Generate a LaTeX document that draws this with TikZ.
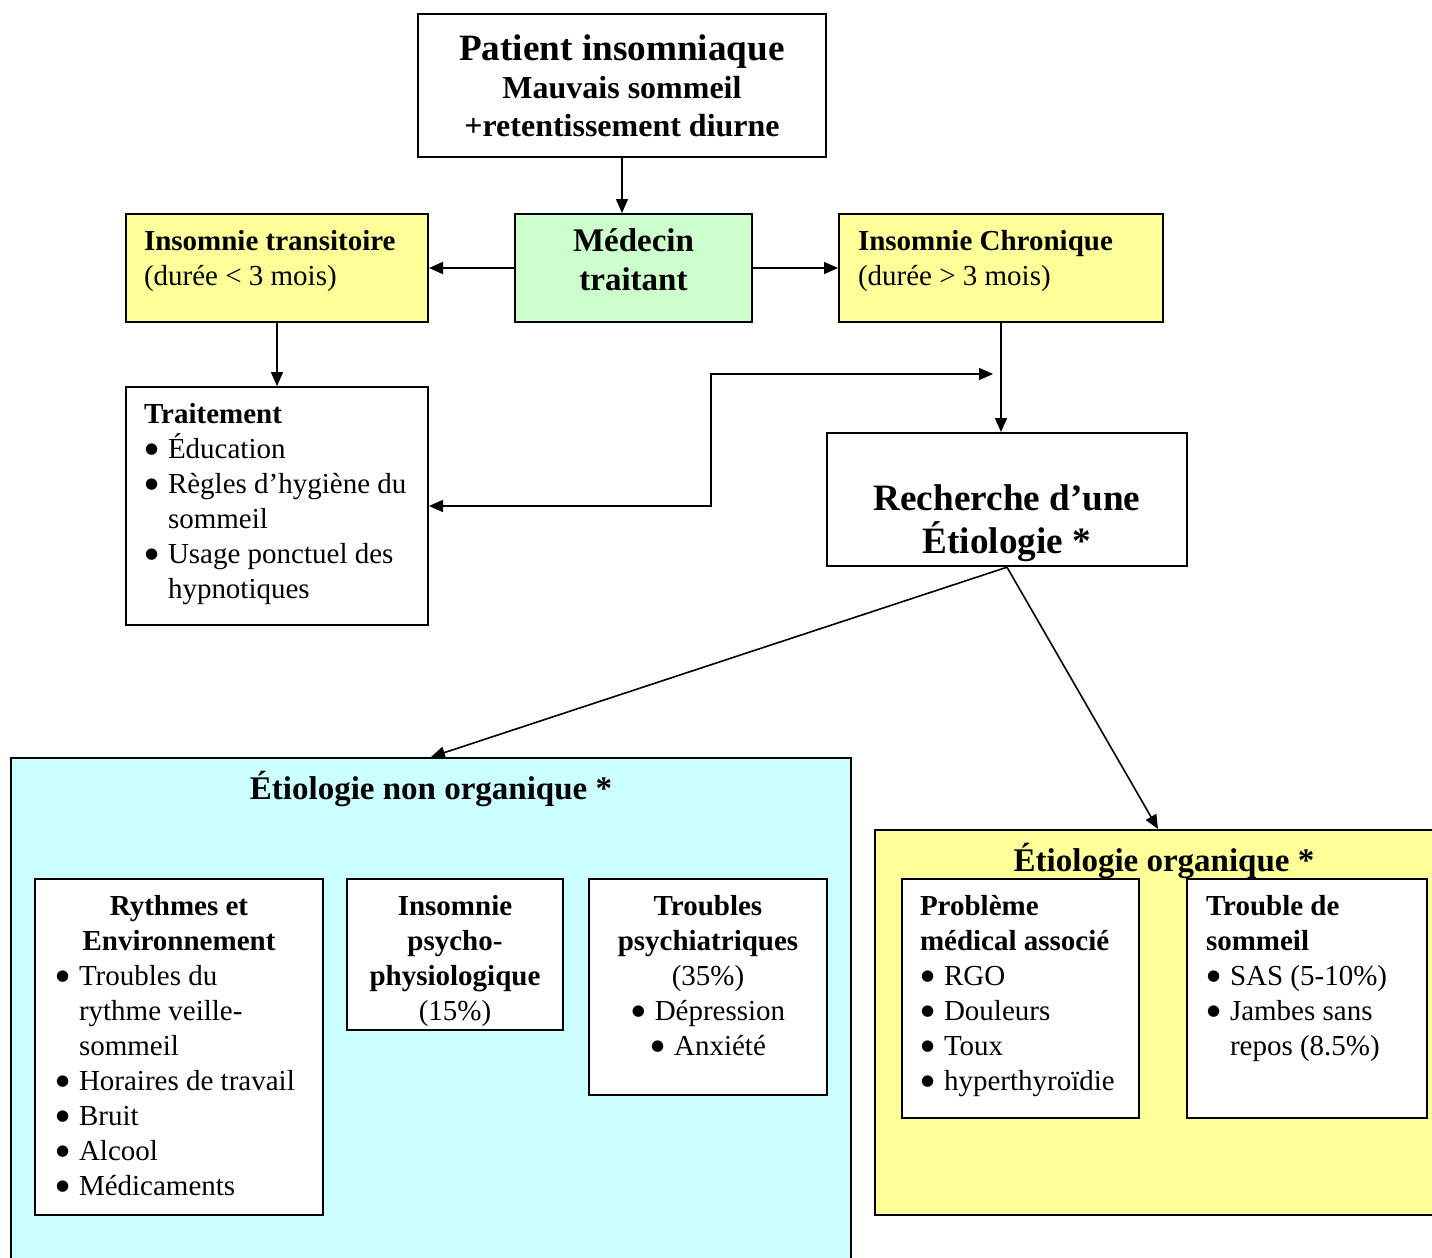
\documentclass[tikz,border=0pt]{standalone}
\usepackage{fontspec}
\setmainfont{Liberation Serif}
\newfontfamily\symboles{DejaVu Sans}
\usetikzlibrary{arrows.meta, positioning}

\definecolor{jaune}{HTML}{FFFF99}
\definecolor{vert}{HTML}{CCFFCC}
\definecolor{cyanclair}{HTML}{CCFFFF}

\newcommand{\corps}{\fontsize{14.5}{17.5}\selectfont}
\newcommand{\titre}{\fontsize{16.5}{19.5}\selectfont\bfseries}
\newcommand{\grand}{\fontsize{18.6}{21.5}\selectfont\bfseries}
\newcommand{\rond}{\hspace{0.5pt}\raisebox{2.2pt}{\symboles\fontsize{7.5}{7.5}\selectfont ●}}
\newcommand{\puce}[1]{\par\hangindent=12pt\hangafter=1\noindent\makebox[12pt][l]{\rond}#1}
\newcommand{\contenu}[3]{\parbox[c][#2][t]{#1}{\raggedright #3}}

\begin{document}
\begin{tikzpicture}[
            x = 0.5pt, y = -0.5pt, % one unit = one pixel, y going down
            > = {Triangle[length=7pt, width=6pt]}, % arrow head style
            line width = 0.8pt % connector style
        ]

        \tikzstyle{boite}=[
            draw = black,
            line width = 1pt,
            fill = white,
            inner xsep = 9pt,
            inner ysep = 8pt,
            anchor = north west,
            font = \corps
        ]

        \useasboundingbox (0,0) rectangle (1432,1258);

        % top of the chart
        \node[boite, anchor=center, minimum width=204pt, minimum height=71.5pt, align=center, font=\fontsize{16}{19}\selectfont\bfseries] (patient) at (622,85.5)
            {{\grand Patient insomniaque}\\Mauvais sommeil\\+retentissement diurne};
        \node[boite, fill=vert, inner xsep=0pt, inner ysep=7.5pt] (medecin) at (514,213)
            {\contenu{118.5pt}{39pt}{\centering\titre Médecin\\traitant}};
        \node[boite, fill=jaune] (transitoire) at (125,213)
            {\contenu{133pt}{38pt}{\textbf{Insomnie transitoire}\\(durée < 3 mois)}};
        \node[boite, fill=jaune, inner xsep=9.5pt] (chronique) at (838,213)
            {\contenu{143pt}{38pt}{\textbf{Insomnie Chronique}\\(durée > 3 mois)}};
        \node[boite] (traitement) at (125,386)
            {\contenu{133pt}{103pt}{\textbf{Traitement}\puce{Éducation}\puce{Règles d’hygiène du\newline sommeil}\puce{Usage ponctuel des\newline hypnotiques}}};
        \node[boite, inner xsep=5pt, inner ysep=2.5pt] (recherche) at (826,432)
            {\parbox[c][57.5pt][b]{170pt}{\centering\grand Recherche d’une\\Étiologie *}};

        % the two kinds of etiology
        \node[boite, fill=cyanclair, inner xsep=0pt, inner ysep=6.5pt] (nonorg) at (10,757)
            {\contenu{420pt}{248pt}{\centering\titre Étiologie non organique *}};
        \node[boite, fill=jaune, inner xsep=0pt, inner ysep=6.5pt] (org) at (874,829)
            {\contenu{283pt}{179.5pt}{\centering\titre\hspace*{6pt}Étiologie organique *}};

        \node[boite, inner xsep=10pt] (rythmes) at (34,878)
            {\contenu{124pt}{152pt}{{\centering\textbf{Rythmes et\\Environnement}\par}\puce{Troubles du\newline rythme veille-\newline sommeil}\puce{Horaires de travail}\puce{Bruit}\puce{Alcool}\puce{Médicaments}}};
        \node[boite, inner xsep=5pt] (psycho) at (346,878)
            {\contenu{98pt}{59.5pt}{\centering\textbf{Insomnie\\psycho-\\physiologique}\\(15\%)}};
        \node[boite, inner xsep=5pt] (psychiatrie) at (588,878)
            {\contenu{109pt}{92pt}{\centering\textbf{Troubles\\psychiatriques}\\(35\%)\\\makebox[12pt][l]{\rond}Dépression\\\makebox[12pt][l]{\rond}Anxiété}};
        \node[boite] (probleme) at (901,878)
            {\contenu{100.5pt}{103.5pt}{\textbf{Problème\\médical associé}\puce{RGO}\puce{Douleurs}\puce{Toux}\puce{hyperthyroïdie}}};
        \node[boite, inner xsep=9.5pt] (sommeil) at (1186,878)
            {\contenu{101pt}{103.5pt}{\textbf{Trouble de\\sommeil}\puce{SAS (5-10\%)}\puce{Jambes sans\newline repos (8.5\%)}}};

        \coordinate (coude) at (711,374);
        \coordinate (jonction) at (993,374);

        \draw[->] (patient.south) -- (patient.south |- medecin.north);
        \draw[->] (medecin.west) -- (transitoire.east);
        \draw[->] (medecin.east) -- (chronique.west);
        \draw[->] (transitoire.south) -- (traitement.north);
        \draw[->] (chronique.south) -- (chronique.south |- recherche.north);
        \draw[<->] (traitement.east) -| (coude) -- (jonction);
        \draw[->] (recherche.south) -- (nonorg.north);
        \draw[->] (recherche.south) -- (org.north);
    \end{tikzpicture}
\end{document}
